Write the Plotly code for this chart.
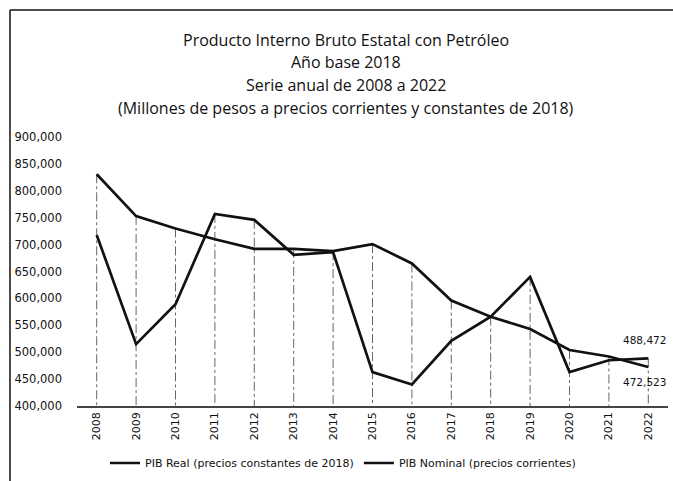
import plotly.graph_objects as go

years = list(range(2008, 2023))
pib_real = [830700, 753000, 730000, 710000, 692000, 692000, 688000, 701000,
            665000, 596000, 566000, 543000, 504000, 492000, 472523]
pib_nominal = [718000, 515000, 589000, 757000, 746000, 681000, 686000, 463000,
               440000, 521000, 566000, 640000, 463000, 485000, 488472]
y_ticks = [400000, 450000, 500000, 550000, 600000, 650000, 700000, 750000,
           800000, 850000, 900000]
title_lines = ["Producto Interno Bruto Estatal con Petróleo",
               "Año base 2018",
               "Serie anual de 2008 a 2022",
               "(Millones de pesos a precios corrientes y constantes de 2018)"]

L, R, T, B = 77, 668, 137, 406
W, H = 673, 481
pw, ph = R - L, B - T


def px(xp):
    return (xp - L) / pw


def py(yp):
    return (B - yp) / ph


# drop lines from the higher value to the axis base
dx, dy = [], []
for yr, a, b in zip(years, pib_real, pib_nominal):
    dx += [yr, yr, None]
    dy += [max(a, b), y_ticks[0], None]

fig = go.Figure()
fig.add_trace(go.Scatter(x=dx, y=dy, mode="lines", showlegend=False,
                         hoverinfo="skip",
                         line=dict(color="#666666", width=1, dash="dashdot")))
fig.add_trace(go.Scatter(x=years, y=pib_real, mode="lines",
                         name="PIB Real (precios constantes de 2018)",
                         line=dict(color="#111111", width=2.7)))
fig.add_trace(go.Scatter(x=years, y=pib_nominal, mode="lines",
                         name="PIB Nominal (precios corrientes)",
                         line=dict(color="#111111", width=2.7)))

annotations = []
for text, yp in zip(title_lines, [40, 62, 85, 108]):
    annotations.append(dict(text=text, xref="paper", yref="paper",
                            x=px(346), y=py(yp), xanchor="center",
                            yanchor="middle", showarrow=False,
                            font=dict(family="Open Sans", size=16,
                                      color="#111111")))
annotations.append(dict(text=f"{pib_nominal[-1]:,}", x=years[-1] + 0.5,
                        y=pib_nominal[-1], xref="x", yref="y",
                        xanchor="right", yanchor="middle", yshift=18,
                        showarrow=False,
                        font=dict(family="DejaVu Sans", size=10.5,
                                  color="#111111")))
annotations.append(dict(text=f"{pib_real[-1]:,}", x=years[-1] + 0.5,
                        y=pib_real[-1], xref="x", yref="y",
                        xanchor="right", yanchor="middle", yshift=-15,
                        showarrow=False,
                        font=dict(family="DejaVu Sans", size=10.5,
                                  color="#111111")))

shapes = [
    dict(type="line", xref="paper", yref="paper",
         x0=px(10), x1=px(10), y0=py(10), y1=py(490),
         line=dict(color="#111111", width=1.5)),
    dict(type="line", xref="paper", yref="paper",
         x0=px(10), x1=px(680), y0=py(10), y1=py(10),
         line=dict(color="#111111", width=1.5)),
]

fig.update_layout(
    width=W, height=H,
    margin=dict(l=L, r=W - R, t=T, b=H - B, autoexpand=False),
    paper_bgcolor="white", plot_bgcolor="white",
    showlegend=True,
    legend=dict(orientation="h", x=px(343), xanchor="center",
                y=py(463), yanchor="middle",
                font=dict(family="DejaVu Sans", size=11, color="#111111"),
                itemwidth=30, tracegroupgap=0),
    annotations=annotations,
    shapes=shapes,
    xaxis=dict(range=[years[0] - 0.5, years[-1] + 0.5], tickmode="array",
               tickvals=years, ticktext=[str(y) for y in years],
               tickangle=-90, showgrid=False, zeroline=False,
               showline=True, linecolor="#444444", linewidth=1.5,
               ticks="", automargin=False,
               tickfont=dict(family="DejaVu Sans", size=11,
                             color="#111111")),
    yaxis=dict(range=[y_ticks[0], y_ticks[-1]], tickmode="array",
               tickvals=y_ticks, ticktext=[f"{v:,}" for v in y_ticks],
               showgrid=False, zeroline=False, showline=False, ticks="",
               ticklabelstandoff=14, automargin=False,
               tickfont=dict(family="DejaVu Sans", size=11.5,
                             color="#111111")),
)

fig.write_html("out.html", config={"displayModeBar": False},
               post_script="document.body.style.margin='0';")
